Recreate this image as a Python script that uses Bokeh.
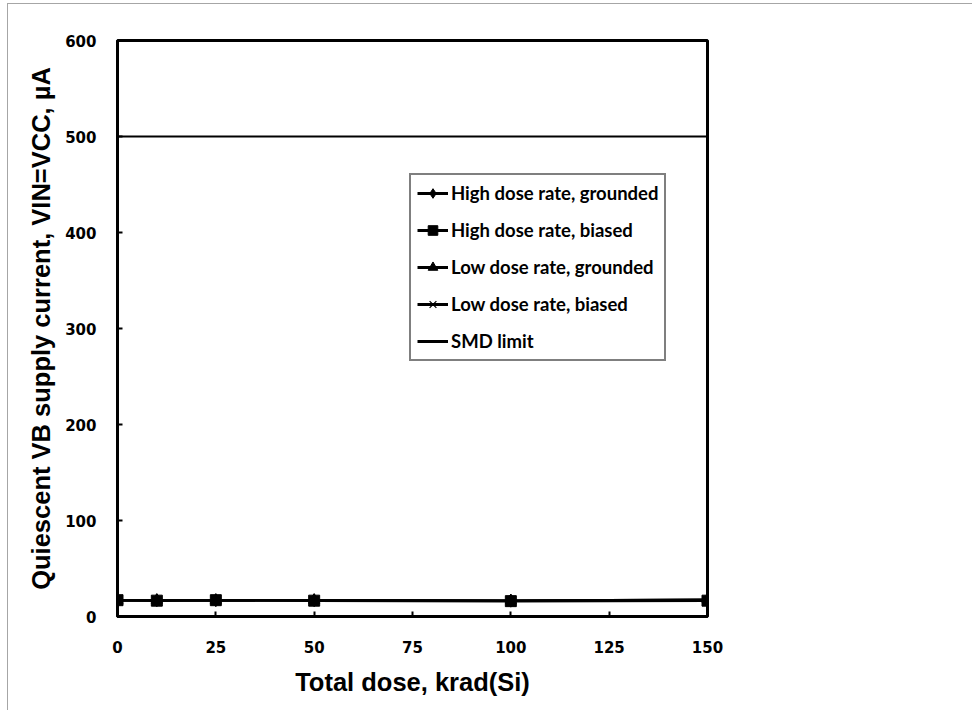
from bokeh.plotting import figure
from bokeh.models import Legend, LegendItem
from bokeh.embed import file_html
from bokeh.resources import INLINE

# Total dose steps, krad(Si)
dose = [0, 10, 25, 50, 100, 150]

# Quiescent VB supply current, uA
hdr_grounded = [17.0, 17.0, 17.0, 17.0, 16.5, 17.0]
hdr_biased = [17.0, 16.5, 17.0, 16.5, 16.0, 16.5]
ldr_grounded = [17.0, 17.0, 17.0, 17.0, 16.5, 17.5]
ldr_biased = [17.0, 17.0, 17.0, 17.0, 16.5, 17.5]

smd_limit = 500
x_ticks = [0, 25, 50, 75, 100, 125, 150]
y_ticks = [0, 100, 200, 300, 400, 500, 600]

p = figure(
    width=965, height=707,
    x_range=(0, 150), y_range=(0, 600),
    output_backend="svg", toolbar_location=None,
    min_border_left=109, min_border_right=266,
    min_border_top=36, min_border_bottom=95,
)
p.margin = (3, 0, 0, 7)
p.styles = {"border-left": "1px solid #a6a6a6", "border-top": "1px solid #a6a6a6"}

p.grid.visible = False
p.outline_line_color = "black"
p.outline_line_width = 3
p.outline_line_alpha = 1.0

for ax in (p.xaxis[0], p.yaxis[0]):
    ax.axis_line_width = 3
    ax.major_tick_in = 5
    ax.major_tick_out = 0
    ax.major_tick_line_width = 2
    ax.minor_tick_line_color = None
    ax.major_label_text_font = "DejaVu Sans"
    ax.major_label_text_font_style = "bold"
    ax.major_label_text_font_size = "15px"
    ax.major_label_text_color = "black"
    ax.axis_label_text_font = "Liberation Sans"
    ax.axis_label_text_font_style = "bold"
    ax.axis_label_text_font_size = "25.5px"
    ax.axis_label_text_color = "black"

p.xaxis.ticker = x_ticks
p.yaxis.ticker = y_ticks
p.xaxis.axis_label = "Total dose, krad(Si)"
p.yaxis.axis_label = "Quiescent VB supply current, VIN=VCC, µA"
p.xaxis.major_label_standoff = 24
p.xaxis.axis_label_standoff = 12
p.yaxis.major_label_standoff = 21
p.yaxis.axis_label_standoff = 7

# SMD limit
p.line([0, 150], [smd_limit, smd_limit], line_color="black", line_width=2)

# Measured series
p.line(dose, hdr_grounded, line_color="black", line_width=2.5)
p.scatter(dose, hdr_grounded, marker="diamond", size=13, color="black")
p.line(dose, hdr_biased, line_color="black", line_width=2.5)
p.scatter(dose, hdr_biased, marker="square", size=11, color="black")
p.line(dose, ldr_grounded, line_color="black", line_width=2.5)
p.scatter(dose, ldr_grounded, marker="triangle", size=11, color="black")
p.line(dose, ldr_biased, line_color="black", line_width=2.5)
p.scatter(dose, ldr_biased, marker="x", size=11, line_color="black", line_width=1.2)

# Legend swatches: placed outside the visible ranges so only the legend shows them
off_x = [-1000, -999]
off_y = [-1000, -1000]
g1 = p.line(off_x, off_y, line_color="black", line_width=3)
s1 = p.scatter(off_x, off_y, marker="diamond", size=13, color="black")
g2 = p.line(off_x, off_y, line_color="black", line_width=3)
s2 = p.scatter(off_x, off_y, marker="square", size=11, color="black")
g3 = p.line(off_x, off_y, line_color="black", line_width=3)
s3 = p.scatter(off_x, off_y, marker="triangle", size=12, color="black")
g4 = p.line(off_x, off_y, line_color="black", line_width=3)
s4 = p.scatter(off_x, off_y, marker="x", size=12, line_color="black", line_width=1.2)
g5 = p.line(off_x, off_y, line_color="black", line_width=3)

legend = Legend(
    items=[
        LegendItem(label="High dose rate, grounded", renderers=[g1, s1]),
        LegendItem(label="High dose rate, biased", renderers=[g2, s2]),
        LegendItem(label="Low dose rate, grounded", renderers=[g3, s3]),
        LegendItem(label="Low dose rate, biased", renderers=[g4, s4]),
        LegendItem(label="SMD limit", renderers=[g5]),
    ],
    location=(292, 255),
    orientation="vertical",
    glyph_width=31, glyph_height=24,
    label_height=20, label_standoff=3,
    spacing=13, padding=6, margin=0,
    label_text_font="Lato", label_text_font_style="bold",
    label_text_font_size="18.5px", label_text_color="black",
    border_line_color="black", border_line_width=2,
    background_fill_color="white", background_fill_alpha=1.0,
)
p.add_layout(legend, "center")

open("out.html", "w").write(file_html(p, INLINE))
